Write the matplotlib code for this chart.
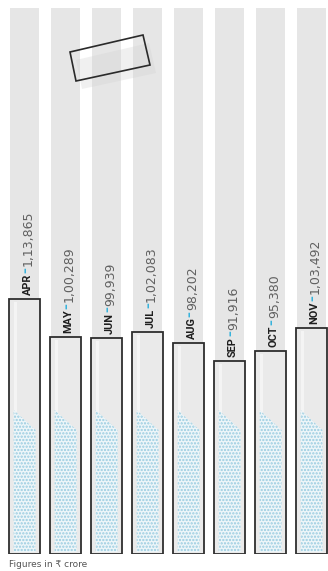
import matplotlib
matplotlib.use("Agg")
import matplotlib.pyplot as plt
from matplotlib.patches import Polygon

months = ["APR", "MAY", "JUN", "JUL", "AUG", "SEP", "OCT", "NOV"]
values = [113865, 100289, 99939, 102083, 98202, 91916, 95380, 103492]
value_labels = ["1,13,865", "1,00,289", "99,939", "1,02,083", "98,202", "91,916", "95,380", "1,03,492"]

W, H = 328, 571
DPI = 100
fig = plt.figure(figsize=(W / DPI, H / DPI), dpi=DPI)
fig.patch.set_facecolor("white")
plt.rcParams['hatch.linewidth'] = 1.1

# main axes: pixel rows 8 (top) .. 554 (bottom)
y_bot_px, y_top_px = 554, 8
px_per_unit = 62 / 21949.0
y0 = 23592
y1 = y0 + (y_bot_px - y_top_px) / px_per_unit
ax = fig.add_axes([0, (H - y_bot_px) / H, 1, (y_bot_px - y_top_px) / H])
ax.set_xlim(-0.6, 7.4)
ax.set_ylim(y0, y1)
ax.axis("off")

x = list(range(len(months)))

# background grey columns
ax.bar(x, [y1 - y0] * len(x), bottom=y0, width=0.71, color="#e6e6e6", zorder=1)

# glass tubes
ax.bar(x, [v - y0 for v in values], bottom=y0, width=0.756, color="#eaeaea",
       edgecolor="#2e2e2e", linewidth=1.3, zorder=3)
# highlight streak
ax.bar([i - 0.22 for i in x], [v - y0 - 1500 for v in values], bottom=y0 + 600,
       width=0.09, color="white", alpha=0.5, linewidth=0, zorder=3.5)

# dotted liquid
def yv(px):
    return y0 + (y_bot_px - px) / px_per_unit

for i in x:
    l, r = i - 0.378 + 0.11, i + 0.378 - 0.11
    poly = Polygon([(l, yv(552)), (r, yv(552)), (r, yv(430)), (l, yv(410))],
                   closed=True, facecolor="#eef6f9", edgecolor="#98cce0",
                   hatch=".....", linewidth=0, zorder=4)
    ax.add_patch(poly)

# labels
for i, (m, v, lab) in enumerate(zip(months, values, value_labels)):
    t1 = ax.annotate(m, xy=(i + 0.07, v), xytext=(0, 3), textcoords="offset points",
                     rotation=90, ha="center", va="bottom", fontsize=7.8,
                     fontweight="bold", family=["Roboto", "DejaVu Sans"],
                     color="#1e1e1e", zorder=6)
    t2 = ax.annotate("\u2013", xy=(0.35, 1), xycoords=t1, xytext=(0, 0.5),
                     textcoords="offset points", rotation=90, ha="center",
                     va="bottom", fontsize=8.5, fontweight="bold",
                     color="#37b3dc", zorder=6)
    ax.annotate(lab, xy=(0.7, 1), xycoords=t2, xytext=(0, 0.5),
                textcoords="offset points", rotation=90, ha="center",
                va="bottom", fontsize=9, color="#606060",
                family=["DejaVu Sans", "Noto Sans"], zorder=6)

# overlay axes for decoration / footnote, pixel coordinates
ov = fig.add_axes([0, 0, 1, 1])
ov.set_xlim(0, W)
ov.set_ylim(H, 0)
ov.axis("off")
ov.patch.set_alpha(0)
shadow = Polygon([(76, 60), (149, 43), (156, 73), (82, 89)], closed=True,
                 facecolor="#cfcfcf", alpha=0.3, linewidth=0)
ov.add_patch(shadow)
box = Polygon([(70, 52), (143, 35), (150, 65), (76, 81)], closed=True,
              facecolor="none", edgecolor="#2a2a2a", linewidth=1.2)
ov.add_patch(box)
ov.text(9, 567, "Figures in \u20b9 crore", fontsize=6.5, color="#555555",
        family=["DejaVu Sans", "Noto Sans"], ha="left", va="baseline")

fig.savefig("out.png", dpi=DPI)
